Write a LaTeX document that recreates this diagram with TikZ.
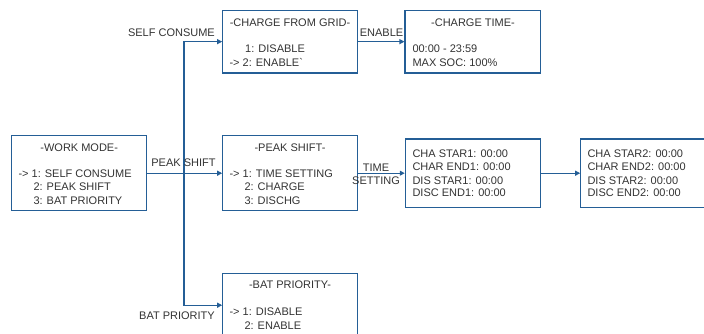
\documentclass[tikz,border=0pt]{standalone}
\usepackage{fontspec}
\setmainfont{Liberation Sans}
\usetikzlibrary{arrows.meta}
\definecolor{bl}{RGB}{36,94,150}
\definecolor{tx}{RGB}{51,51,51}
\begin{document}
\begin{tikzpicture}[x=1pt,y=-1pt,
  box/.style={draw=bl,line width=1.1pt,rectangle,inner sep=0pt},
  txt/.style={anchor=base west,inner sep=0pt,text=tx,font=\fontsize{11}{13.3}\selectfont},
  ttl/.style={anchor=base,inner sep=0pt,text=tx,font=\fontsize{11}{13.3}\selectfont},
  lbl/.style={inner sep=0pt,text=tx,font=\fontsize{11}{13.3}\selectfont},
  arr/.style={draw=bl,line width=1.1pt,-{Triangle[length=5pt,width=5pt]}}]
\path[use as bounding box] (0,0) rectangle (704,334);
\clip (0,0) rectangle (704,334);

% boxes
\node[box,minimum width=135pt,minimum height=75pt] (wm) at (79.2,173.2) {};
\node[box,minimum width=134.6pt,minimum height=62.7pt] (cfg) at (290,41.65) {};
\node[box,minimum width=135.7pt,minimum height=62.7pt] (ct) at (472.85,41.65) {};
\node[box,minimum width=134.6pt,minimum height=75pt] (ps) at (290,173.2) {};
\node[box,minimum width=135.4pt,minimum height=68.3pt] (t1) at (473,173.2) {};
\node[box,minimum width=135.3pt,minimum height=68.3pt] (t2) at (648.35,173.2) {};
\node[box,minimum width=135pt,minimum height=63.7pt] (bp) at (290.2,305.2) {};

% work mode text
\node[ttl] (wmt) at (79.2,151.3) {-WORK MODE-};
\node[txt] (wm1) at (18.3,177.3) {-> 1: SELF CONSUME};
\node[txt] (wm2) at (33.3,190.7) {2: PEAK SHIFT};
\node[txt] (wm3) at (33.3,204) {3: BAT PRIORITY};

% charge from grid
\node[ttl] (cfgt) at (290,26.3) {-CHARGE FROM GRID-};
\node[txt] (cfg1) at (245,52.3) {1: DISABLE};
\node[txt] (cfg2) at (229.3,66.3) {-> 2: ENABLE\textasciigrave};

% charge time
\node[ttl] (ctt) at (473,26.3) {-CHARGE TIME-};
\node[txt] (ct1) at (412.3,52.3) {00:00 - 23:59};
\node[txt] (ct2) at (412.3,66.3) {MAX SOC: 100\%};

% peak shift
\node[ttl] (pst) at (290,151.3) {-PEAK SHIFT-};
\node[txt] (ps1) at (229.3,177.3) {-> 1: TIME SETTING};
\node[txt] (ps2) at (244.3,190.7) {2: CHARGE};
\node[txt] (ps3) at (244.3,204) {3: DISCHG};

% time set 1
\node[txt] (t1a) at (412.3,157.3) {CHA STAR1: 00:00};
\node[txt] (t1b) at (412.3,170.7) {CHAR END1: 00:00};
\node[txt] (t1c) at (412.3,184) {DIS STAR1: 00:00};
\node[txt] (t1d) at (412.3,196.7) {DISC END1: 00:00};

% time set 2
\node[txt] (t2a) at (587.3,157.3) {CHA STAR2: 00:00};
\node[txt] (t2b) at (587.3,170.7) {CHAR END2: 00:00};
\node[txt] (t2c) at (587.3,184) {DIS STAR2: 00:00};
\node[txt] (t2d) at (587.3,196.7) {DISC END2: 00:00};

% bat priority
\node[ttl] (bpt) at (290,288.3) {-BAT PRIORITY-};
\node[txt] (bp1) at (229.3,315.7) {-> 1: DISABLE};
\node[txt] (bp2) at (244.3,329) {2: ENABLE};

% connectors
\coordinate (sp) at (184,173.2);
\draw[arr] (wm.east) -- (ps.west);
\draw[arr] (sp) |- (cfg.west);
\draw[arr] (sp) |- (bp.west);
\draw[arr] (cfg.east) -- (ct.west);
\draw[arr] (ps.east) -- (t1.west);
\draw[arr] (t1.east) -- (t2.west);

% connector labels
\node[lbl,anchor=base east] (lsc) at (215,36.3) {SELF CONSUME};
\node[lbl,anchor=base] (len) at (381.5,37) {ENABLE};
\node[lbl,anchor=base] (lps) at (183.5,167) {PEAK SHIFT};
\node[lbl,anchor=base east] (lbp) at (215,319.7) {BAT PRIORITY};
\node[lbl,align=center] (lts) at (376,174.3) {TIME\\SETTING};
\end{tikzpicture}
\end{document}
